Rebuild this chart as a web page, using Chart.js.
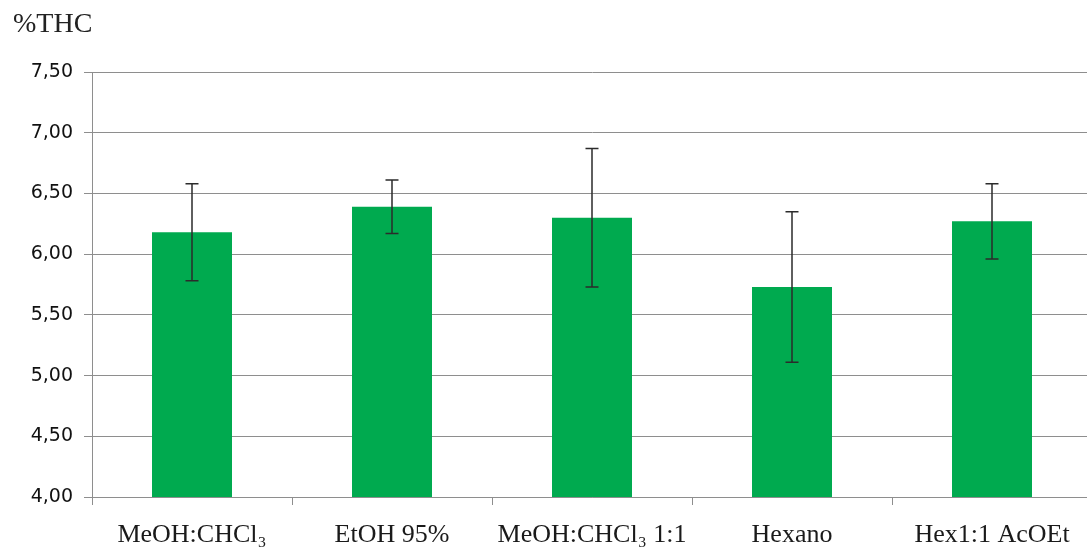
<!DOCTYPE html>
<html>
<head>
<meta charset="utf-8">
<script src="https://cdn.jsdelivr.net/npm/chart.js@4/dist/chart.umd.min.js"></script>
<style>
  html, body { margin: 0; padding: 0; background: #fff; overflow: hidden; }
  #wrap { width: 1092px; height: 548px; }
</style>
</head>
<body>
<div id="wrap"><canvas id="c" width="1092" height="548"></canvas></div>
<script>
// Solvent systems and mean %THC with their error (±)
const categories = ['MeOH:CHCl\u2083', 'EtOH 95%', 'MeOH:CHCl\u2083 1:1', 'Hexano', 'Hex1:1 AcOEt'];
const thcValues = [6.18, 6.39, 6.30, 5.73, 6.27];
const thcErrors = [0.40, 0.22, 0.57, 0.62, 0.31];
const yTicks = [4.0, 4.5, 5.0, 5.5, 6.0, 6.5, 7.0, 7.5];
const axisTitle = '%THC';

const GRID = '#8e8e8e';
const SERIF = '"Liberation Serif", "Times New Roman", Times, serif';

// Axis caption in the top-left corner
const cornerTitle = {
  id: 'cornerTitle',
  afterDraw(chart) {
    const ctx = chart.ctx;
    ctx.save();
    ctx.font = '28px ' + SERIF;
    ctx.fillStyle = '#222';
    ctx.textAlign = 'left';
    ctx.textBaseline = 'alphabetic';
    ctx.fillText(axisTitle, 13, 32);
    ctx.restore();
  }
};

// Draws symmetric error bars on top of each bar
const errorBars = {
  id: 'errorBars',
  afterDatasetsDraw(chart) {
    const ctx = chart.ctx;
    const meta = chart.getDatasetMeta(0);
    const y = chart.scales.y;
    ctx.save();
    ctx.strokeStyle = '#2b2b2b';
    ctx.lineWidth = 1.5;
    meta.data.forEach((bar, i) => {
      const x = bar.x;
      const top = y.getPixelForValue(thcValues[i] + thcErrors[i]);
      const bot = y.getPixelForValue(thcValues[i] - thcErrors[i]);
      const half = 6.5;
      ctx.beginPath();
      ctx.moveTo(x, top); ctx.lineTo(x, bot);
      ctx.moveTo(x - half, top); ctx.lineTo(x + half, top);
      ctx.moveTo(x - half, bot); ctx.lineTo(x + half, bot);
      ctx.stroke();
    });
    ctx.restore();
  }
};

function build() {
  new Chart(document.getElementById('c'), {
    type: 'bar',
    data: {
      labels: categories,
      datasets: [{
        data: thcValues,
        backgroundColor: '#00aa4f',
        borderWidth: 0,
        barPercentage: 0.4,
        categoryPercentage: 1.0
      }]
    },
    options: {
      responsive: false,
      animation: false,
      devicePixelRatio: 1,
      layout: { padding: { left: 0, right: 0, top: 72, bottom: 0 } },
      plugins: {
        legend: { display: false },
        tooltip: { enabled: false },
        title: { display: false }
      },
      scales: {
        x: {
          offset: true,
          afterFit(scale) { scale.height = 51; },
          grid: {
            display: true,
            offset: true,
            drawOnChartArea: false,
            drawTicks: true,
            tickLength: 8,
            color: GRID
          },
          border: { display: true, color: GRID, width: 1 },
          ticks: {
            color: '#1a1a1a',
            padding: 15,
            maxRotation: 0,
            autoSkip: false,
            font: { family: SERIF, size: 26 }
          }
        },
        y: {
          min: yTicks[0],
          max: yTicks[yTicks.length - 1],
          afterBuildTicks(scale) { scale.ticks = yTicks.map(v => ({ value: v })); },
          afterFit(scale) { scale.width = 92; },
          grid: {
            color: GRID,
            lineWidth: 1,
            tickLength: 8
          },
          border: { display: true, color: GRID, width: 1 },
          ticks: {
            color: '#111',
            padding: 11,
            font: { family: '"DejaVu Sans", Verdana, sans-serif', size: 19 },
            callback: v => Number(v).toFixed(2).replace('.', ',')
          }
        }
      }
    },
    plugins: [errorBars, cornerTitle]
  });
}

Promise.all([
  document.fonts.load('28px "Liberation Serif"'),
  document.fonts.load('19px "DejaVu Sans"')
]).then(build, build);
</script>
</body>
</html>
